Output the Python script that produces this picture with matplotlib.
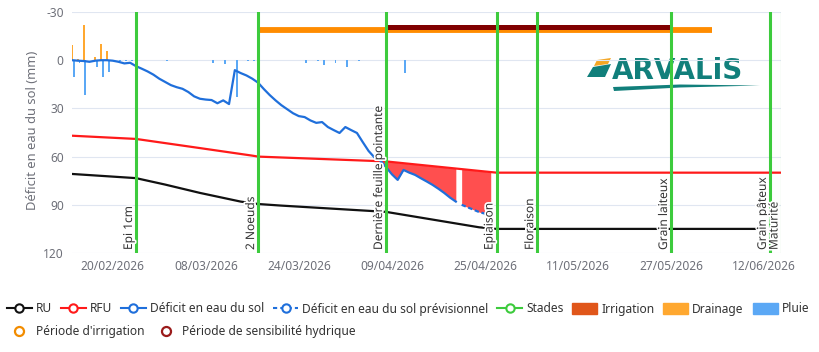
import matplotlib
matplotlib.use('Agg')
import matplotlib.pyplot as plt
import matplotlib.dates as mdates
import matplotlib.patheffects as pe
from matplotlib.lines import Line2D
from matplotlib.patches import Patch, Polygon
import numpy as np
import pandas as pd

plt.rcParams['font.family'] = ['Noto Sans', 'DejaVu Sans']
plt.rcParams['axes.unicode_minus'] = False

# ---- données ----
jours_deficit = pd.date_range('2026-02-13', '2026-04-20', freq='D')
deficit = [0, 0.3, 0.5, 1.0, 0.3, 0, 0, 0.3, 1.0, 2.0, 1.6, 3.7, 5.3, 7.0, 9.0, 11.5,
           13.5, 15.5, 16.8, 17.8, 19.8, 22.5, 24.0, 24.5, 24.8, 26.8, 25.0, 27.3, 6.2, 8.0,
           9.5, 11.5, 14.0, 18.0, 21.7, 25.0, 28.0, 30.5, 33.0, 34.8, 35.4, 37.5, 39.0, 38.5,
           41.6, 43.5, 45.3,
           41.6, 43.5, 45.3, 51.0, 56.5, 60.5, 62.5, 66.5, 71.0, 74.5, 68.3, 70.0, 71.4, 73.5,
           75.5, 77.6, 80.0, 82.6, 85.5, 88.0]
jours_prev = pd.date_range('2026-04-21', '2026-04-26', freq='D')
deficit_prev = [90, 91.5, 93, 94.5, 95.5, 96.5]

jours_rfu = ['2026-02-13', '2026-02-24', '2026-03-07', '2026-03-16', '2026-03-17',
             '2026-04-08', '2026-04-27', '2026-06-15']
rfu = [47, 49, 54.7, 59.4, 60, 63, 70, 70]

jours_ru = ['2026-02-13', '2026-02-24', '2026-03-01', '2026-03-07', '2026-03-14', '2026-03-17',
            '2026-03-21', '2026-04-08', '2026-04-24', '2026-04-27', '2026-06-11']
ru = [70.8, 73.4, 77.4, 82.6, 88, 89.5, 90.5, 94.4, 104, 105, 105]

jours_pluie = ['2026-02-13', '2026-02-14', '2026-02-15', '2026-02-17', '2026-02-18', '2026-02-19',
               '2026-02-21', '2026-02-22', '2026-02-23', '2026-03-01', '2026-03-09', '2026-03-11',
               '2026-03-13', '2026-03-15', '2026-03-16', '2026-03-25', '2026-03-27', '2026-03-28',
               '2026-03-30', '2026-04-01', '2026-04-03', '2026-04-11']
pluie = [10.3, 2, 21.7, 4, 10.3, 7.2, 0.5, 0.5, 0.8, 0.5, 1.5, 2.5,
         23, 0.5, 0.5, 1.5, 0.5, 3, 2, 4, 0.5, 8]

jours_drainage = ['2026-02-13', '2026-02-14', '2026-02-15', '2026-02-17', '2026-02-18', '2026-02-19']
drainage = [-9.3, -1, -21.7, -2, -9.9, -5.8]

stades = ['Epi 1cm', '2 Noeuds', 'Dernière feuille pointante', 'Epiaison', 'Floraison',
          'Grain laiteux', 'Grain pâteux', 'Maturité']
jours_stades = ['2026-02-24', '2026-03-17', '2026-04-08', '2026-04-27', '2026-05-04',
                '2026-05-27', '2026-06-13', '2026-06-15']

periode_irrigation = ['2026-03-17', '2026-06-03']
periode_sensibilite = ['2026-04-08', '2026-05-27']

ticks_x = ['2026-02-20', '2026-03-08', '2026-03-24', '2026-04-09', '2026-04-25',
           '2026-05-11', '2026-05-27', '2026-06-12']
ticks_y = [-30, 0, 30, 60, 90, 120]


def d(lst):
    return mdates.date2num(pd.to_datetime(lst))


gris = '#6E7079'
vert = '#3DCB3D'
bleu = '#1F6FDB'

fig = plt.figure(figsize=(8.2, 3.52), dpi=100)
fig.patch.set_facecolor('white')

# calque en pixels pour le logo
ov = fig.add_axes([0, 0, 1, 1], zorder=0)
ov.set_xlim(0, 820)
ov.set_ylim(352, 0)
ov.axis('off')

ax = fig.add_axes([72 / 820, 1 - 253 / 352, (781.5 - 72) / 820, (253 - 12) / 352], zorder=1)
ax.patch.set_visible(False)

# logo ARVALIS
ov.add_patch(Polygon([(597, 60), (611, 58), (608, 64), (594, 66)], color='#F5A623', lw=0))
ov.add_patch(Polygon([(593, 67), (611, 64), (605, 77), (587, 77)], color='#117F7B', lw=0))
ov.text(612, 79, 'ARVALiS', fontsize=20, fontweight='bold', color='#117F7B',
        family='DejaVu Sans', ha='left', va='baseline')
ov.add_patch(Polygon([(613, 87), (680, 84.5), (760, 85.5), (680, 87.5), (614, 91)],
                     color='#117F7B', lw=0))

x_def = d(jours_deficit)
x_prev = d(jours_prev)
x_rfu = d(jours_rfu)

# barres pluie / drainage
ax.bar(d(jours_drainage), drainage, width=0.32, color='#FFA830', zorder=2)
ax.bar(d(jours_pluie) + 0.3, pluie, width=0.32, color='#5BA8F5', zorder=2)

# zones sous la RFU
rfu_def = np.interp(x_def, x_rfu, rfu)
ax.fill_between(x_def, rfu_def, deficit, where=np.array(deficit) > rfu_def,
                interpolate=True, color='#FF4F4F', lw=0, zorder=2)
rfu_prev = np.interp(x_prev, x_rfu, rfu)
ax.fill_between(x_prev, rfu_prev, deficit_prev, color='#FF4F4F', lw=0, zorder=2)

# courbes
ax.plot(d(jours_ru), ru, color='#111111', lw=1.6, zorder=3)
ax.plot(x_rfu, rfu, color='#FF1A1A', lw=1.6, zorder=3)
ax.plot(x_def, deficit, color=bleu, lw=1.6, zorder=3)
ax.plot(x_prev, deficit_prev, color=bleu, lw=1.6, ls=(0, (2, 1.2)), zorder=3)

# périodes
ax.plot(d(periode_irrigation), [-19, -19], color='#FF8C00', lw=4.2,
        solid_capstyle='butt', zorder=4)
ax.plot(d(periode_sensibilite), [-20.6, -20.6], color='#800000', lw=3.6,
        solid_capstyle='butt', zorder=4)

# stades
for nom, jour in zip(stades, d(jours_stades)):
    ax.axvline(jour, color=vert, lw=2.2, zorder=5)
    ax.annotate(nom, xy=(jour, 120), xytext=(-1, 3), textcoords='offset pixels',
                rotation=90, ha='right', va='bottom', fontsize=8.6, color='#333333',
                zorder=6, path_effects=[pe.withStroke(linewidth=2.5, foreground='white')])

ax.set_xlim(d(['2026-02-13'])[0], d(['2026-06-15'])[0])
ax.set_ylim(120, -30)
ax.set_yticks(ticks_y)
ax.set_xticks(d(ticks_x))
ax.xaxis.set_major_formatter(mdates.DateFormatter('%d/%m/%Y'))
ax.grid(axis='y', color='#E0E6F1', lw=0.8, zorder=0)
for s in ax.spines.values():
    s.set_visible(False)
ax.tick_params(axis='both', length=0, colors=gris, labelsize=8.6)
ax.tick_params(axis='y', pad=6)
ax.tick_params(axis='x', pad=5)

fig.text(33 / 820, 1 - 130 / 352, 'Déficit en eau du sol (mm)', rotation=90,
         ha='center', va='center', fontsize=9.3, color=gris)

# légende
def ligne(c, ls='-'):
    return Line2D([], [], color=c, lw=1.5, ls=ls, marker='o', markersize=6,
                  markerfacecolor='white', markeredgewidth=1.5)

h1 = [ligne('#111111'), ligne('#FF1A1A'), ligne(bleu), ligne(bleu, (0, (2, 1.5))), ligne(vert),
      Patch(color='#E0561A'), Patch(color='#FFA830'), Patch(color='#5BA8F5')]
l1 = ['RU', 'RFU', 'Déficit en eau du sol', 'Déficit en eau du sol prévisionnel', 'Stades',
      'Irrigation', 'Drainage', 'Pluie']
fig.legend(h1, l1, loc='center left', bbox_to_anchor=(7 / 820, 1 - 309 / 352), ncol=8,
           frameon=False, fontsize=8.6, handlelength=25 / 12, handleheight=1.1,
           handletextpad=4 / 12, columnspacing=9 / 12, borderpad=0, borderaxespad=0,
           labelcolor='#333333')

h2 = [Line2D([], [], ls='none', marker='o', markersize=6.5, markerfacecolor='white',
             markeredgecolor='#F28C00', markeredgewidth=1.6),
      Line2D([], [], ls='none', marker='o', markersize=6.5, markerfacecolor='white',
             markeredgecolor='#9B1B1B', markeredgewidth=1.6)]
l2 = ["Période d'irrigation", 'Période de sensibilité hydrique']
fig.legend(h2, l2, loc='center left', bbox_to_anchor=(7 / 820, 1 - 332 / 352), ncol=2,
           frameon=False, fontsize=8.6, handlelength=25 / 12, handletextpad=4 / 12,
           columnspacing=9 / 12, borderpad=0, borderaxespad=0, labelcolor='#333333')

fig.savefig('out.png', dpi=100)
